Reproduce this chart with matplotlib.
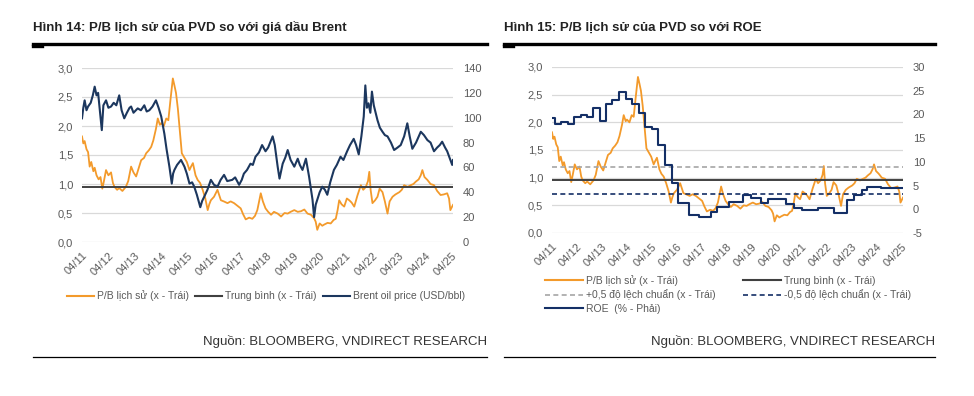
import matplotlib
matplotlib.use("Agg")
import matplotlib.pyplot as plt
from matplotlib.lines import Line2D

plt.rcParams['font.family'] = ['Liberation Sans', 'DejaVu Sans']
plt.rcParams['axes.unicode_minus'] = False

# ================== data ==================
# time axis in fractional years, ticks at April of each year
tick_years = list(range(2011, 2026))
tick_labels = [f"04/{y % 100:02d}" for y in tick_years]

pb_t = [2011.25, 2011.30, 2011.35, 2011.42, 2011.48, 2011.54, 2011.60, 2011.68, 2011.73, 2011.80,
        2011.88, 2011.95, 2012.02, 2012.08, 2012.16, 2012.25, 2012.35, 2012.42, 2012.48, 2012.58,
        2012.66, 2012.78, 2012.91, 2013.00, 2013.11, 2013.20, 2013.30, 2013.40, 2013.49, 2013.60,
        2013.68, 2013.78, 2013.87, 2013.95, 2014.05, 2014.12, 2014.20, 2014.25, 2014.35, 2014.44,
        2014.52, 2014.60, 2014.69, 2014.75, 2014.81, 2014.88, 2014.94, 2015.00, 2015.03, 2015.13,
        2015.22, 2015.32, 2015.38, 2015.45, 2015.55, 2015.63, 2015.72, 2015.82, 2015.92, 2016.01,
        2016.07, 2016.13, 2016.25, 2016.38, 2016.45, 2016.51, 2016.62, 2016.76, 2016.88, 2017.01,
        2017.15, 2017.26, 2017.35, 2017.45, 2017.58, 2017.70, 2017.80, 2017.89, 2018.02, 2018.10,
        2018.20, 2018.30, 2018.41, 2018.52, 2018.66, 2018.79, 2018.92, 2019.04, 2019.15, 2019.29,
        2019.42, 2019.54, 2019.67, 2019.79, 2019.92, 2020.04, 2020.10, 2020.16, 2020.25, 2020.35,
        2020.42, 2020.55, 2020.67, 2020.78, 2020.86, 2020.93, 2020.99, 2021.08, 2021.18, 2021.28,
        2021.37, 2021.46, 2021.56, 2021.68, 2021.81, 2021.90, 2022.00, 2022.08, 2022.13, 2022.18,
        2022.25, 2022.35, 2022.44, 2022.52, 2022.63, 2022.72, 2022.82, 2022.90, 2023.01, 2023.12,
        2023.27, 2023.36, 2023.45, 2023.58, 2023.70, 2023.80, 2023.89, 2024.00, 2024.08, 2024.14,
        2024.22, 2024.33, 2024.45, 2024.58, 2024.70, 2024.83, 2024.95, 2025.08, 2025.15, 2025.20,
        2025.30]
pb_val = [1.82, 1.70, 1.74, 1.60, 1.55, 1.30, 1.38, 1.22, 1.28, 1.15,
          1.08, 1.12, 0.92, 1.05, 1.24, 1.15, 1.20, 1.02, 0.95, 0.90,
          0.93, 0.88, 0.95, 1.05, 1.30, 1.20, 1.13, 1.28, 1.41, 1.45,
          1.53, 1.58, 1.64, 1.75, 1.95, 2.13, 2.02, 2.05, 2.00, 2.13,
          2.10, 2.45, 2.82, 2.70, 2.57, 2.30, 1.99, 1.70, 1.53, 1.45,
          1.38, 1.24, 1.30, 1.36, 1.15, 1.07, 1.02, 0.90, 0.75, 0.55,
          0.65, 0.72, 0.78, 0.90, 0.80, 0.72, 0.70, 0.67, 0.70, 0.67,
          0.62, 0.58, 0.48, 0.39, 0.42, 0.40, 0.45, 0.55, 0.84, 0.70,
          0.58, 0.52, 0.47, 0.52, 0.49, 0.44, 0.50, 0.49, 0.52, 0.55,
          0.52, 0.53, 0.56, 0.49, 0.47, 0.41, 0.35, 0.21, 0.32, 0.28,
          0.30, 0.33, 0.32, 0.38, 0.40, 0.55, 0.72, 0.65, 0.61, 0.75,
          0.72, 0.68, 0.61, 0.80, 0.98, 0.90, 0.95, 1.05, 1.21, 0.90,
          0.67, 0.72, 0.78, 0.92, 0.86, 0.70, 0.49, 0.70, 0.78, 0.82,
          0.86, 0.90, 0.98, 0.95, 0.98, 1.00, 1.04, 1.08, 1.15, 1.24,
          1.12, 1.07, 1.00, 0.98, 0.88, 0.81, 0.82, 0.84, 0.75, 0.55,
          0.64]

brent_t = [2011.25, 2011.30, 2011.35, 2011.42, 2011.48, 2011.58, 2011.66, 2011.73, 2011.80, 2011.86,
           2011.93, 2012.00, 2012.06, 2012.16, 2012.25, 2012.35, 2012.45, 2012.55, 2012.66, 2012.75,
           2012.85, 2012.95, 2013.05, 2013.11, 2013.20, 2013.36, 2013.48, 2013.61, 2013.70, 2013.80,
           2013.92, 2014.05, 2014.15, 2014.25, 2014.37, 2014.45, 2014.56, 2014.65, 2014.70, 2014.75,
           2014.85, 2015.00, 2015.13, 2015.22, 2015.32, 2015.42, 2015.50, 2015.60, 2015.73, 2015.80,
           2015.88, 2016.00, 2016.13, 2016.25, 2016.38, 2016.50, 2016.63, 2016.75, 2016.94, 2017.05,
           2017.20, 2017.30, 2017.38, 2017.50, 2017.63, 2017.72, 2017.82, 2017.95, 2018.07, 2018.20,
           2018.30, 2018.47, 2018.55, 2018.66, 2018.73, 2018.85, 2018.95, 2019.04, 2019.15, 2019.29,
           2019.42, 2019.50, 2019.60, 2019.73, 2019.85, 2019.98, 2020.04, 2020.10, 2020.16, 2020.25,
           2020.35, 2020.45, 2020.54, 2020.65, 2020.79, 2020.90, 2021.04, 2021.15, 2021.29, 2021.40,
           2021.54, 2021.63, 2021.73, 2021.83, 2021.92, 2021.98, 2022.04, 2022.10, 2022.17, 2022.23,
           2022.30, 2022.44, 2022.53, 2022.63, 2022.72, 2022.82, 2022.95, 2023.07, 2023.20, 2023.32,
           2023.45, 2023.57, 2023.66, 2023.76, 2023.90, 2024.08, 2024.20, 2024.33, 2024.45, 2024.58,
           2024.70, 2024.80, 2024.89, 2025.00, 2025.08, 2025.20, 2025.27, 2025.30]
brent_val = [99.5, 108, 114, 106, 109, 112, 118, 125, 118, 120,
             105, 90, 110, 114, 108, 109, 112, 110, 118, 106,
             99.5, 104, 108, 109, 104, 107.5, 106, 110, 105, 106,
             109, 114, 108, 101, 87, 75, 60.6, 47, 55, 58,
             62, 66, 60.6, 55, 47, 48, 44.5, 38, 28, 33,
             36.5, 42, 50, 46, 44.5, 50, 54, 49, 50, 52,
             46, 50, 55, 58, 63, 62, 68.6, 72, 78, 73,
             76, 85, 78, 60.6, 51, 63, 68, 74, 66, 60.6,
             67, 62, 58, 67, 52.5, 34, 20, 30, 34, 40,
             44.5, 42, 38, 48, 58, 62, 68.6, 66, 73, 78,
             83, 78, 70.5, 85, 101, 126, 108, 111.6, 104, 121,
             110, 98, 92, 88.7, 86, 85, 80, 74, 76, 78,
             85, 95.5, 85, 75, 80, 88.7, 86, 82, 80, 73,
             76, 78, 80.7, 76, 73, 66, 62, 66]

roe_t = [2011.20, 2011.36, 2011.62, 2011.89, 2012.13, 2012.42, 2012.66, 2012.89, 2013.18, 2013.42,
         2013.65, 2013.92, 2014.21, 2014.45, 2014.75, 2014.97, 2015.25, 2015.50, 2015.77, 2016.04,
         2016.28, 2016.74, 2017.14, 2017.60, 2017.87, 2018.35, 2018.88, 2019.22, 2019.61, 2019.88,
         2020.61, 2020.94, 2021.27, 2021.90, 2022.54, 2023.07, 2023.34, 2023.67, 2023.87, 2024.40,
         2025.30]
roe_val = [19.2, 18.0, 18.5, 18.0, 19.5, 19.9, 19.5, 21.3, 18.7, 22.3,
           23.0, 24.7, 23.2, 22.1, 20.2, 17.4, 17.0, 13.6, 9.3, 5.6,
           1.3, -1.2, -1.6, -0.5, 0.5, 1.6, 3.0, 2.3, 1.3, 2.1,
           1.1, 0.2, -0.1, 0.2, -0.8, 2.0, 3.0, 4.1, 4.8, 4.4,
           4.4]

pb_mean = 0.95
pb_plus_half_sd = 1.20
pb_minus_half_sd = 0.71

# ================== style ==================
ORANGE = '#F39A2B'
NAVY = '#1C375E'
ROE_NAVY = '#142F66'
MEAN_GRAY = '#404040'
GRID = '#D9D9D9'
TICK_COLOR = '#595959'

W, H = 974, 396
fig = plt.figure(figsize=(W / 100, H / 100), dpi=100)


def fx(px):
    return px / W


def fy(py):
    return 1 - py / H


tick_years_pos = [y + 0.25 for y in tick_years]


def style_axes(ax, ax2):
    for a in (ax, ax2):
        for s in a.spines.values():
            s.set_visible(False)
        a.tick_params(length=0, labelsize=8, labelcolor=TICK_COLOR)
    ax.grid(axis='y', color=GRID, linewidth=0.9)
    ax.set_axisbelow(True)
    ax.set_xticks(tick_years_pos)
    ax.set_xticklabels(tick_labels, rotation=45, ha='right', rotation_mode='anchor')
    ax.set_xlim(2011.25, 2025.3)
    ax.set_ylim(0, 3.0)
    ax.set_yticks([0, 0.5, 1.0, 1.5, 2.0, 2.5, 3.0])
    ax.set_yticklabels([f"{v:.1f}".replace('.', ',') for v in ax.get_yticks()])
    ax.tick_params(axis='y', pad=6.5)
    ax.tick_params(axis='x', pad=6)
    ax2.tick_params(axis='y', pad=7)


# ================== figure chrome ==================
def header(x0, x1, title):
    fig.text(fx(x0), fy(28), title, fontsize=9.5, fontweight='bold', color='#222222', va='center')
    fig.add_artist(Line2D([fx(x0), fx(x1)], [fy(44), fy(44)], color='black', linewidth=2.4))
    fig.add_artist(Line2D([fx(x0), fx(x0 + 9)], [fy(45.5), fy(45.5)], color='black', linewidth=2.4))
    fig.text(fx(x1), fy(342), 'Nguồn: BLOOMBERG, VNDIRECT RESEARCH', fontsize=9.5,
             color='#333333', ha='right', va='center')
    fig.add_artist(Line2D([fx(x0), fx(x1)], [fy(357), fy(357)], color='black', linewidth=0.9))


header(33, 487, 'Hình 14: P/B lịch sử của PVD so với giá dầu Brent')
header(504, 935, 'Hình 15: P/B lịch sử của PVD so với ROE')

# ================== left chart ==================
axL = fig.add_axes([fx(82), fy(242), fx(453 - 82), (242 - 68) / H])
axL2 = axL.twinx()
axL.plot(pb_t, pb_val, color=ORANGE, linewidth=1.3)
axL.axhline(pb_mean, color=MEAN_GRAY, linewidth=1.4)
axL2.plot(brent_t, brent_val, color=NAVY, linewidth=1.5)
style_axes(axL, axL2)
axL2.set_ylim(0, 140)
axL2.set_yticks(range(0, 141, 20))

hL = [Line2D([], [], color=ORANGE, linewidth=1.5),
      Line2D([], [], color=MEAN_GRAY, linewidth=1.5),
      Line2D([], [], color=NAVY, linewidth=1.5)]
fig.legend(hL, ['P/B lịch sử (x - Trái)', 'Trung bình (x - Trái)', 'Brent oil price (USD/bbl)'],
           loc='center', bbox_to_anchor=(fx(266), fy(296)), ncol=3, frameon=False,
           fontsize=7.5, handlelength=2.6, handletextpad=0.3, columnspacing=0.6,
           labelcolor=TICK_COLOR)

# ================== right chart ==================
axR = fig.add_axes([fx(552), fy(233), fx(903 - 552), (233 - 67) / H])
axR2 = axR.twinx()
axR.plot(pb_t, pb_val, color=ORANGE, linewidth=1.3)
axR.axhline(pb_mean, color=MEAN_GRAY, linewidth=1.4)
axR.axhline(pb_plus_half_sd, color='#A6A6A6', linewidth=1.2, linestyle=(0, (3, 2)))
axR.axhline(pb_minus_half_sd, color=ROE_NAVY, linewidth=1.2, linestyle=(0, (3, 2)))
axR2.plot(roe_t, roe_val, color=ROE_NAVY, linewidth=1.5, drawstyle='steps-post')
style_axes(axR, axR2)
axR2.set_ylim(-5, 30)
axR2.set_yticks(range(-5, 31, 5))

hR = [Line2D([], [], color=ORANGE, linewidth=1.5),
      Line2D([], [], color='#A6A6A6', linewidth=1.2, linestyle=(0, (3, 2))),
      Line2D([], [], color=ROE_NAVY, linewidth=1.5),
      Line2D([], [], color=MEAN_GRAY, linewidth=1.5),
      Line2D([], [], color=ROE_NAVY, linewidth=1.2, linestyle=(0, (3, 2)))]
labR = ['P/B lịch sử (x - Trái)', '+0,5 độ lệch chuẩn (x - Trái)', 'ROE  (% - Phải)',
        'Trung bình (x - Trái)', '-0,5 độ lệch chuẩn (x - Trái)']
fig.legend(hR, labR, loc='upper left', bbox_to_anchor=(fx(545), fy(275)), ncol=2,
           frameon=False, fontsize=7.5, handlelength=3.6, handletextpad=0.3,
           columnspacing=2.7, labelspacing=0.35, labelcolor=TICK_COLOR,
           borderpad=0, borderaxespad=0)

fig.savefig('out.png', dpi=100)
